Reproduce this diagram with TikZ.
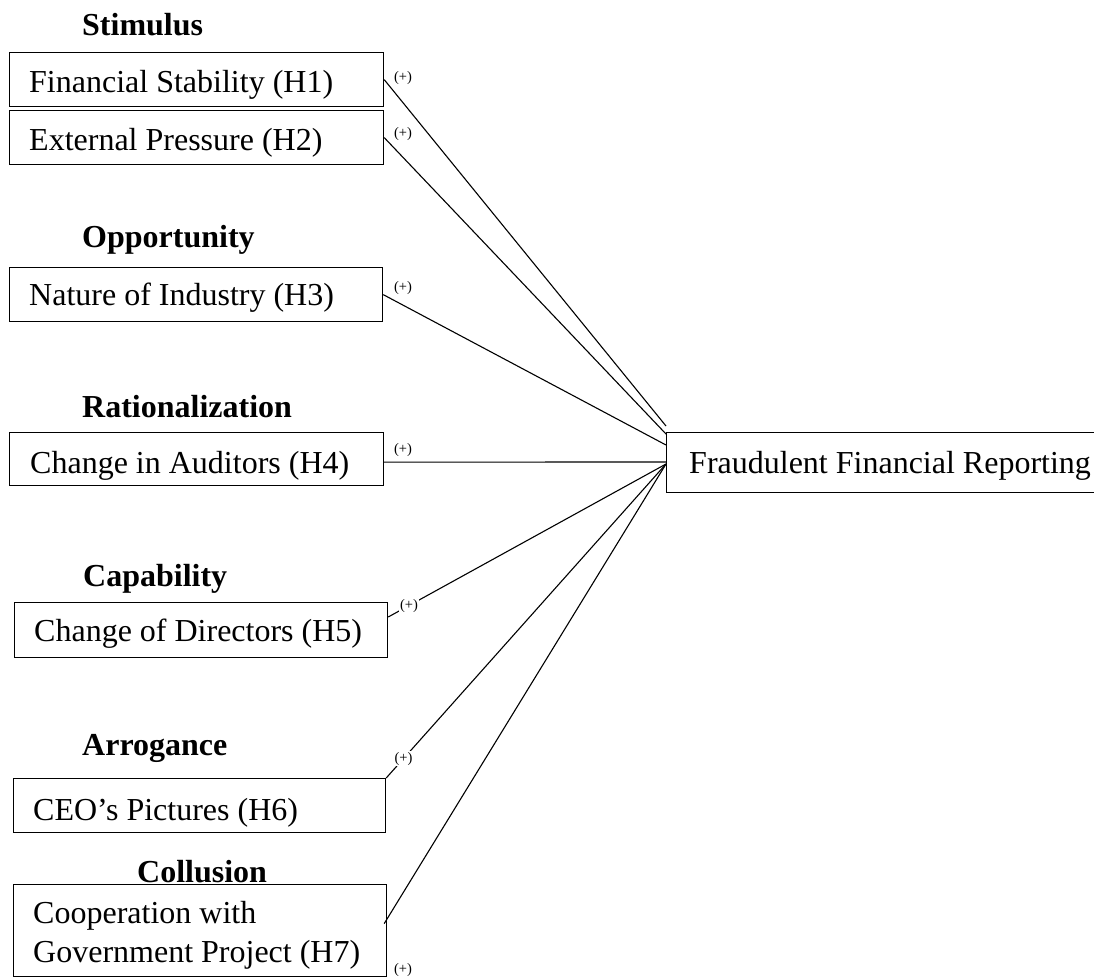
\documentclass[tikz,border=0pt]{standalone}
\usepackage{fontspec}
\setmainfont{Liberation Serif}
\usetikzlibrary{calc}
\begin{document}
\begin{tikzpicture}[x=1pt,y=-1pt,
  box/.style={draw, line width=1.2pt, rectangle, inner sep=0pt, anchor=north west},
  txt/.style={inner sep=0pt, anchor=base west, font=\fontsize{32}{39}\selectfont},
  ttl/.style={inner sep=0pt, anchor=base west, font=\fontsize{32}{39}\selectfont\bfseries},
  sign/.style={inner sep=1pt, font=\fontsize{14.5}{16}\selectfont},
  link/.style={line width=1.1pt}]
\useasboundingbox (0,0) rectangle (1094,977);
% titles
\node[ttl] (tstim) at (82,35) {Stimulus};
\node[ttl] (topp) at (82,247) {Opportunity};
\node[ttl] (trat) at (82,417) {Rationalization};
\node[ttl] (tcap) at (83,586) {Capability};
\node[ttl] (tarr) at (82,755) {Arrogance};
\node[ttl] (tcol) at (137,882) {Collusion};
% boxes
\node[box, minimum width=374, minimum height=54] (h1) at (9,52) {};
\node[box, minimum width=374, minimum height=54] (h2) at (9,110) {};
\node[box, minimum width=373, minimum height=54] (h3) at (9,267) {};
\node[box, minimum width=374, minimum height=53] (h4) at (9,432) {};
\node[box, minimum width=373, minimum height=55] (h5) at (14,602) {};
\node[box, minimum width=372, minimum height=54] (h6) at (13,778) {};
\node[box, minimum width=373, minimum height=92] (h7) at (13,884) {};
\node[box, minimum width=440, minimum height=60] (ffr) at (666,432) {};
% box texts
\node[txt] (l1) at (29,92) {Financial Stability (H1)};
\node[txt] (l2) at (29,150) {External Pressure (H2)};
\node[txt] (l3) at (29,305) {Nature of Industry (H3)};
\node[txt] (l4) at (30,473) {Change in Auditors (H4)};
\node[txt] (l5) at (34,641) {Change of Directors (H5)};
\node[txt] (l6) at (33,820) {CEO’s Pictures (H6)};
\node[txt] (l7a) at (33,923) {Cooperation with};
\node[txt] (l7b) at (33,962) {Government Project (H7)};
\node[txt] (lf) at (689,473) {Fraudulent Financial Reporting};
% end points
\coordinate (e1) at ($(ffr.north west)+(0,-6)$);
\coordinate (e2) at ($(ffr.north west)+(0,2)$);
\coordinate (e3) at ($(ffr.north west)+(0,13)$);
\coordinate (e4) at ($(ffr.north west)+(0,30)$);
\coordinate (e5) at ($(ffr.north west)+(0,32)$);
\coordinate (s5) at ($(h5.north east)+(0,15)$);
\coordinate (s7) at ($(h7.east)+(-3,-7)$);
% connectors
\draw[link] (h1.east) -- (e1);
\draw[link] (h2.east) -- (e2);
\draw[link] (h3.east) -- (e3);
\draw[link] ($(h4.east)+(0,3)$) -- (e4);
\draw[link] (s5) -- node[sign, pos=0.075, fill=white] (p5) {(+)} (e5);
\draw[link] (h6.north east) -- node[sign, pos=0.062, fill=white] (p6) {(+)} (e5);
\draw[link] (s7) -- (e5);
% signs
\node[sign] (p1) at (403,78) {(+)};
\node[sign] (p2) at (403,134) {(+)};
\node[sign] (p3) at (403,288) {(+)};
\node[sign] (p4) at (403,450) {(+)};
\node[sign] (p7) at (403,970) {(+)};
\end{tikzpicture}
\end{document}
